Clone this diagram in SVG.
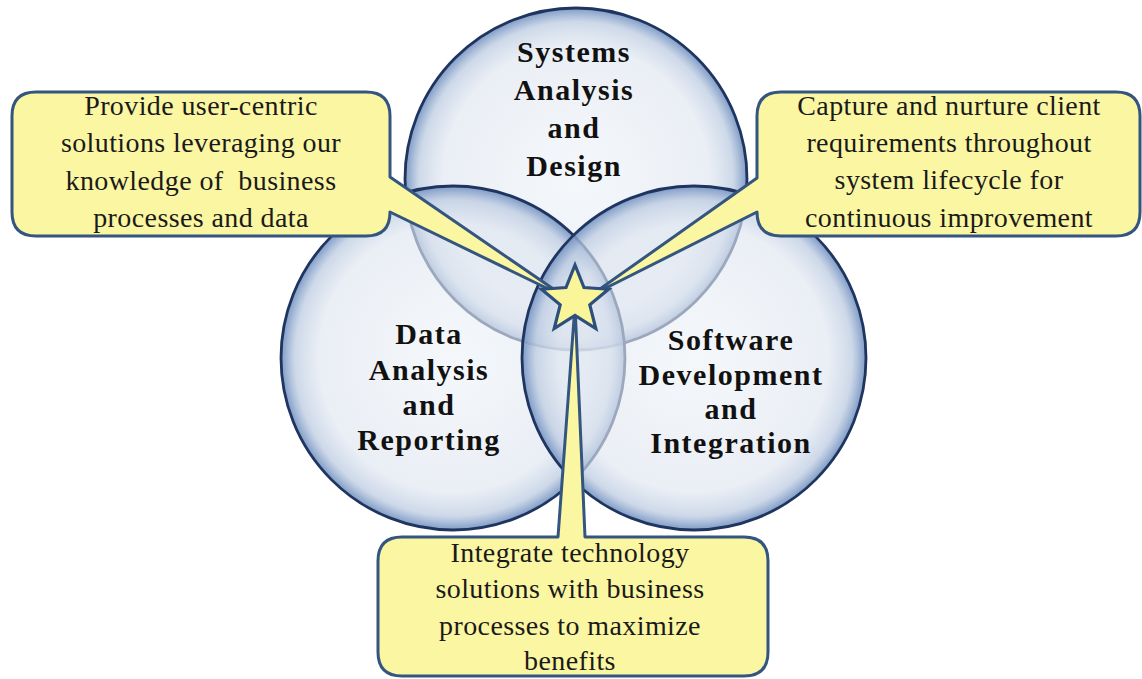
<svg xmlns="http://www.w3.org/2000/svg" width="1142" height="679" viewBox="0 0 1142 679">
<style>
.circ{fill:url(#cg);stroke:#1f3560;stroke-width:2.8}
.lbl{font-family:"Liberation Serif",serif;font-weight:bold;font-size:30px;letter-spacing:1.5px;fill:#111;text-anchor:middle}
.call{fill:#fbf6a2;stroke:#33557f;stroke-width:3;stroke-linejoin:round}
.ct{font-family:"Liberation Serif",serif;font-size:28px;letter-spacing:0.4px;fill:#1a1a1a;text-anchor:middle}
.star{fill:#fbf59a;stroke:#2c4f7c;stroke-width:3.2;stroke-linejoin:miter}
</style>
<defs>
<radialGradient id="cg" cx="0.5" cy="0.5" r="0.5">
<stop offset="0" stop-color="#eef2f7" stop-opacity="0.6"/>
<stop offset="0.78" stop-color="#dfe6f0" stop-opacity="0.65"/>
<stop offset="0.92" stop-color="#bccbe1" stop-opacity="0.75"/>
<stop offset="1" stop-color="#6f8fbf" stop-opacity="0.9"/>
</radialGradient>
</defs>
<rect width="1142" height="679" fill="#ffffff"/>
<g id="circle-systems">
<circle class="circ" cx="576" cy="179" r="171"/>
<text class="lbl" x="574" y="62">Systems</text>
<text class="lbl" x="574" y="100">Analysis</text>
<text class="lbl" x="574" y="138">and</text>
<text class="lbl" x="574" y="176">Design</text>
</g>
<g id="circle-data">
<circle class="circ" cx="453" cy="358" r="172"/>
<text class="lbl" x="429" y="344">Data</text>
<text class="lbl" x="429" y="380">Analysis</text>
<text class="lbl" x="429" y="415">and</text>
<text class="lbl" x="429" y="450">Reporting</text>
</g>
<g id="circle-software">
<circle class="circ" cx="694" cy="358" r="172"/>
<text class="lbl" x="731" y="350">Software</text>
<text class="lbl" x="731" y="385">Development</text>
<text class="lbl" x="731" y="419">and</text>
<text class="lbl" x="731" y="453">Integration</text>
</g>
<g id="connectors">
<path class="call" d="M36,92 H366 Q390,92 390,116 V177 L565,297 L390,212 Q390,236 366,236 H36 Q12,236 12,212 V116 Q12,92 36,92 Z"/>
<path class="call" d="M781,92 H1116 Q1140,92 1140,116 V212 Q1140,236 1116,236 H781 Q757,236 757,212 L590,296 L757,178 V116 Q757,92 781,92 Z"/>
<path class="call" d="M402,537 H558 L575,305 L585,537 H744 Q768,537 768,561 V652 Q768,676 744,676 H402 Q378,676 378,652 V561 Q378,537 402,537 Z"/>
</g>
<g id="callout-left">
<text class="ct" x="201" y="115">Provide user-centric</text>
<text class="ct" x="201" y="152">solutions leveraging our</text>
<text class="ct" x="201" y="190">knowledge of&#160; business</text>
<text class="ct" x="201" y="227">processes and data</text>
</g>
<g id="callout-right">
<text class="ct" x="949" y="115">Capture and nurture client</text>
<text class="ct" x="949" y="152">requirements throughout</text>
<text class="ct" x="949" y="189">system lifecycle for</text>
<text class="ct" x="949" y="227">continuous improvement</text>
</g>
<g id="callout-bottom">
<text class="ct" x="570" y="562">Integrate technology</text>
<text class="ct" x="570" y="598">solutions with business</text>
<text class="ct" x="570" y="635">processes to maximize</text>
<text class="ct" x="570" y="670">benefits</text>
</g>
<g id="star">
<path class="star" d="M575,265 L584,287.5 L608.5,289.2 L589.8,304.8 L595.8,328.5 L575,315.5 L554.2,328.5 L560.2,304.8 L541.5,289.2 L566,287.5 Z"/>
</g>
</svg>
